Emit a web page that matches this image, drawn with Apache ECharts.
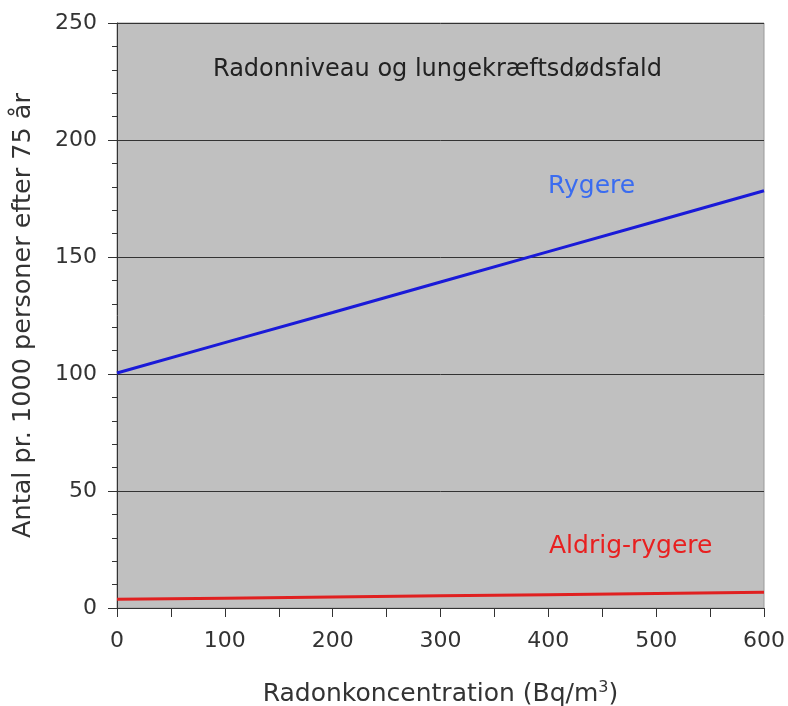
<!DOCTYPE html>
<html>
<head>
<meta charset="utf-8">
<script src="https://cdn.jsdelivr.net/npm/echarts@6/dist/echarts.min.js"></script>
<style>html,body{margin:0;padding:0;background:#fff}#c{width:788px;height:706px}</style>
</head>
<body>
<div id="c"></div>
<script>
const radon = [0, 100, 200, 300, 400, 500, 600];
const smokers = [100.4, 113.4, 126.3, 139.3, 152.3, 165.3, 178.3];
const neverSmokers = [3.7, 4.2, 4.7, 5.2, 5.7, 6.2, 6.7];
const chartTitle = 'Radonniveau og lungekræftsdødsfald';
const smokerLabel = 'Rygere';
const neverLabel = 'Aldrig-rygere';
const xName = 'Radonkoncentration (Bq/m{s|3})';
const yName = 'Antal pr. 1000 personer efter 75 år';

const font = 'DejaVu Sans, Verdana, sans-serif';
const chart = echarts.init(document.getElementById('c'));
chart.setOption({
  animation: false,
  textStyle: { fontFamily: font },
  grid: { left: 117, top: 23, right: 24, bottom: 98, show: true, backgroundColor: '#c0c0c0', borderColor: '#9a9a9a', borderWidth: 1, outerBoundsMode: 'none', containLabel: false },
  xAxis: {
    type: 'value', min: 0, max: 600, interval: 100,
    axisLine: { show: true, lineStyle: { color: '#333', width: 1 } },
    axisTick: { show: true, inside: false, length: 9, lineStyle: { color: '#333' } },
    minorTick: { show: true, splitNumber: 2, length: 9, lineStyle: { color: '#333' } },
    splitLine: { show: false },
    axisLabel: { color: '#333', fontSize: 22, fontFamily: font, margin: 22 },
    name: xName, nameLocation: 'middle', nameGap: 72,
    nameTextStyle: { color: '#333', fontSize: 25, fontFamily: font,
      rich: { s: { fontSize: 16, fontFamily: font, color: '#333', verticalAlign: 'top', padding: [0, 0, 12, 0] } } }
  },
  yAxis: {
    type: 'value', min: 0, max: 250, interval: 50,
    axisLine: { show: true, lineStyle: { color: '#333', width: 1 } },
    axisTick: { show: true, inside: false, length: 9, lineStyle: { color: '#333' } },
    minorTick: { show: true, splitNumber: 5, length: 5, lineStyle: { color: '#333' } },
    splitLine: { show: true, lineStyle: { color: '#333', width: 1 } },
    axisLabel: { color: '#333', fontSize: 22, fontFamily: font, margin: 20 },
    name: yName, nameLocation: 'middle', nameGap: 81, nameRotate: 90,
    nameTextStyle: { color: '#333', fontSize: 25.5, fontFamily: font }
  },
  series: [
    { type: 'line', data: radon.map((x, i) => [x, smokers[i]]), showSymbol: false, lineStyle: { color: '#1a1ad8', width: 3 }, z: 3 },
    { type: 'line', data: radon.map((x, i) => [x, neverSmokers[i]]), showSymbol: false, lineStyle: { color: '#e02020', width: 3 }, z: 3 }
  ],
  graphic: [
    { type: 'text', left: 213, top: 58, z: 10, style: { text: chartTitle, fill: '#222', font: '24px ' + font } },
    { type: 'text', left: 548, top: 174, z: 10, style: { text: smokerLabel, fill: '#3a6cf0', font: '25px ' + font } },
    { type: 'text', left: 549, top: 534, z: 10, style: { text: neverLabel, fill: '#e82020', font: '25px ' + font } }
  ]
});
</script>
</body>
</html>
